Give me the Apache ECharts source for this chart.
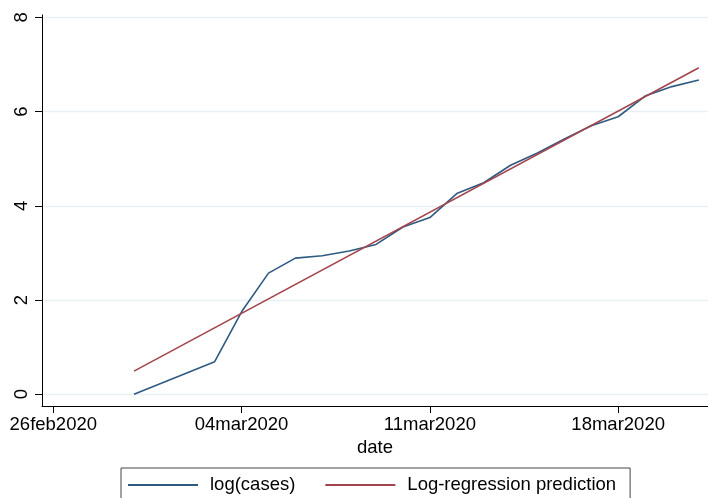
<!DOCTYPE html>
<html>
<head>
<meta charset="utf-8">
<script src="https://cdn.jsdelivr.net/npm/echarts@6/dist/echarts.min.js"></script>
<style>html,body{margin:0;padding:0;background:#fff;}#c{width:708px;height:498px;}</style>
</head>
<body>
<div id="c"></div>
<script>
const dates = ['2020-02-29','2020-03-03','2020-03-04','2020-03-05','2020-03-06','2020-03-07','2020-03-08','2020-03-09','2020-03-10','2020-03-11','2020-03-12','2020-03-13','2020-03-14','2020-03-15','2020-03-16','2020-03-17','2020-03-18','2020-03-19','2020-03-20','2020-03-21'];
const logCases = [0, 0.69, 1.75, 2.57, 2.89, 2.94, 3.04, 3.18, 3.55, 3.75, 4.26, 4.49, 4.86, 5.12, 5.42, 5.70, 5.89, 6.33, 6.53, 6.67];
const predDates = ['2020-02-29','2020-03-21'];
const predValues = [0.49, 6.93];
const xTickDates = ['2020-02-26','2020-03-04','2020-03-11','2020-03-18'];
const yTicks = [0, 2, 4, 6, 8];
const seriesNames = ['log(cases)', 'Log-regression prediction'];

const DAY = 86400000;
function ts(s){ const p = s.split('-').map(Number); return Date.UTC(p[0], p[1]-1, p[2]); }
const MONTHS = ['jan','feb','mar','apr','may','jun','jul','aug','sep','oct','nov','dec'];
function fmt(v){ const d = new Date(v); return String(d.getUTCDate()).padStart(2,'0') + MONTHS[d.getUTCMonth()] + d.getUTCFullYear(); }

const font = '"Liberation Sans", Arial, Helvetica, sans-serif';
const FS = 18.5;
const base = ts('2020-02-26');
const chart = echarts.init(document.getElementById('c'), null, {renderer:'canvas'});
chart.setOption({
  animation: false,
  backgroundColor: '#fff',
  grid: { left: 42, right: 0, top: 15, bottom: 92, containLabel: false },
  xAxis: {
    type: 'value',
    min: base - 0.42*DAY,
    max: base + 24.34*DAY,
    name: 'date',
    nameLocation: 'middle',
    nameGap: 27,
    nameTextStyle: { fontSize: FS, fontFamily: font, color: '#000' },
    axisLine: { show: true, onZero: false, lineStyle: { color: '#000', width: 1 } },
    axisTick: { show: true, length: 7, lineStyle: { color: '#000' }, customValues: xTickDates.map(ts) },
    axisLabel: { fontSize: FS, fontFamily: font, color: '#000', margin: 9, customValues: xTickDates.map(ts), formatter: fmt },
    splitLine: { show: false }
  },
  yAxis: {
    type: 'value',
    min: -0.25,
    max: 8.05,
    axisLine: { show: true, onZero: false, lineStyle: { color: '#000', width: 1 } },
    axisTick: { show: true, length: 7, lineStyle: { color: '#000' }, customValues: yTicks },
    axisLabel: { fontSize: FS, fontFamily: font, color: '#000', margin: 11, rotate: 90, customValues: yTicks },
    splitLine: { show: true, lineStyle: { color: '#e8f0f3', width: 1.3 } }
  },
  legend: {
    data: seriesNames,
    left: 121, top: 468,
    orient: 'horizontal',
    icon: 'rect',
    padding: [7, 14, 40, 7],
    borderColor: '#444', borderWidth: 1,
    itemWidth: 70, itemHeight: 2, itemGap: 30,
    textStyle: { fontSize: FS, fontFamily: font, color: '#000', lineHeight: 20, padding: [0,0,0,7] }
  },
  series: [
    { name: seriesNames[0], type: 'line', symbol: 'none', data: dates.map((d,i)=>[ts(d), logCases[i]]),
      lineStyle: { color: '#2f5a82', width: 1.6 }, itemStyle: { color: '#2f5a82' } },
    { name: seriesNames[1], type: 'line', symbol: 'none', data: predDates.map((d,i)=>[ts(d), predValues[i]]),
      lineStyle: { color: '#a3454c', width: 1.6 }, itemStyle: { color: '#a3454c' } }
  ]
});
</script>
</body>
</html>
